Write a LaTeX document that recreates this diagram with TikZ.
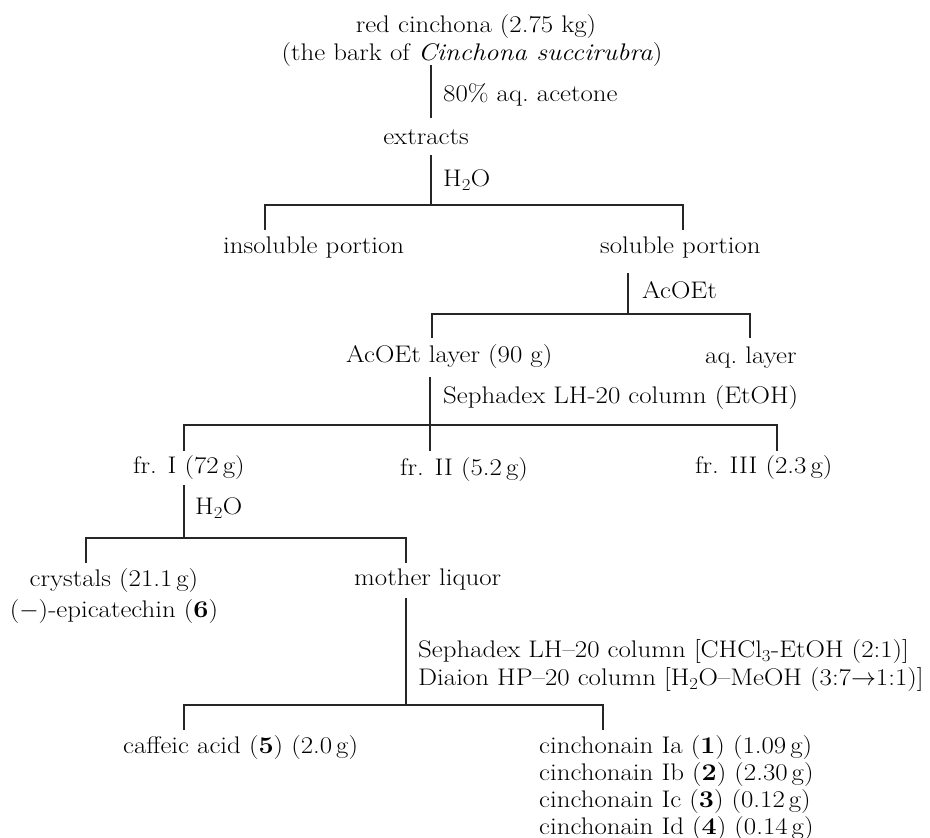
\documentclass[tikz,border=0pt]{standalone}
\usepackage{fontspec}
\setmainfont[FakeStretch=1.12]{Latin Modern Roman}
\begin{document}
\begin{tikzpicture}[x=1pt,y=-1pt]
\tikzset{
  lbl/.style={inner sep=0pt, font=\fontsize{24}{29}\selectfont},
  ln/.style={line width=1.1pt, black!85},
}
\useasboundingbox (0,0) rectangle (930,838);
% texts
\node[lbl] (top1) at (476,27) {red cinchona (2.75 kg)};
\node[lbl] (top2) at (472,55) {(the bark of \textit{Cinchona succirubra})};
\node[lbl,anchor=west] (s1) at (443,95) {80\% aq.\ acetone};
\node[lbl] (extr) at (426,137) {extracts};
\node[lbl,anchor=west] (s2) at (443,180) {H\textsubscript{2}O};
\node[lbl,anchor=west] (insol) at (223,248) {insoluble portion};
\node[lbl,anchor=west] (sol) at (600,248) {soluble portion};
\node[lbl,anchor=west] (s3) at (642,290) {AcOEt};
\node[lbl,anchor=west] (acl) at (346,357) {AcOEt layer (90 g)};
\node[lbl,anchor=west] (aql) at (705,358) {aq.\ layer};
\node[lbl,anchor=west] (s4) at (443,398) {Sephadex LH-20 column (EtOH)};
\node[lbl,anchor=west] (f1) at (133,468) {fr. I (72\,g)};
\node[lbl,anchor=west] (f2) at (400,470) {fr. II (5.2\,g)};
\node[lbl,anchor=west] (f3) at (695,468) {fr. III (2.3\,g)};
\node[lbl,anchor=west] (s5) at (195,508) {H\textsubscript{2}O};
\node[lbl,align=center,font=\fontsize{24}{31}\selectfont] (cry) at (114,596) {crystals (21.1\,g)\\($-$)-epicatechin (\textbf{6})};
\node[lbl,anchor=west] (ml) at (354,580) {mother liquor};
\node[lbl,anchor=west] (s6) at (418,652) {Sephadex LH--20 column [CHCl\textsubscript{3}-EtOH (2:1)]};
\node[lbl,anchor=west] (s7) at (418,680) {Diaion HP--20 column [H\textsubscript{2}O--MeOH (3:7$\rightarrow$1:1)]};
\node[lbl,anchor=west] (caf) at (123,748) {caffeic acid (\textbf{5}) (2.0\,g)};
\node[lbl,anchor=west,align=left,font=\fontsize{24}{26.7}\selectfont] (cin) at (539,788) {cinchonain Ia (\textbf{1}) (1.09\,g)\\cinchonain Ib (\textbf{2}) (2.30\,g)\\cinchonain Ic (\textbf{3}) (0.12\,g)\\cinchonain Id (\textbf{4}) (0.14\,g)};
% junction coordinates
\coordinate (v1a) at (431,65);  \coordinate (v1b) at (431,118);
\coordinate (v2a) at (431,155); \coordinate (v2b) at (431,205);
\coordinate (h1l) at (265,205); \coordinate (h1r) at (683,205);
\coordinate (t1l) at (265,230); \coordinate (t1r) at (683,230);
\coordinate (v3a) at (628,273); \coordinate (v3b) at (628,314);
\coordinate (h2l) at (432,314); \coordinate (h2r) at (750,314);
\coordinate (t2l) at (432,338); \coordinate (t2r) at (750,338);
\coordinate (v4a) at (430,377); \coordinate (v4b) at (430,425);
\coordinate (h3l) at (184,425); \coordinate (h3r) at (777,425);
\coordinate (t3l) at (184,451); \coordinate (t3m) at (430,451); \coordinate (t3r) at (777,451);
\coordinate (v5a) at (184,485); \coordinate (v5b) at (184,538);
\coordinate (h4l) at (86,538);  \coordinate (h4r) at (406,538);
\coordinate (t4l) at (86,563);  \coordinate (t4r) at (406,563);
\coordinate (v6a) at (406,598); \coordinate (v6b) at (406,705);
\coordinate (h5l) at (184,705); \coordinate (h5r) at (603,705);
\coordinate (t5l) at (184,730); \coordinate (t5r) at (603,730);
% connectors
\draw[ln] (v1a) -- (v1b);
\draw[ln] (v2a) -- (v2b);
\draw[ln] (t1l) -- (h1l) -- (h1r) -- (t1r);
\draw[ln] (v3a) -- (v3b);
\draw[ln] (t2l) -- (h2l) -- (h2r) -- (t2r);
\draw[ln] (v4a) -- (v4b);
\draw[ln] (t3l) -- (h3l) -- (h3r) -- (t3r);
\draw[ln] (v4b) -- (t3m);
\draw[ln] (v5a) -- (v5b);
\draw[ln] (t4l) -- (h4l) -- (h4r) -- (t4r);
\draw[ln] (v6a) -- (v6b);
\draw[ln] (t5l) -- (h5l) -- (h5r) -- (t5r);
\end{tikzpicture}
\end{document}
